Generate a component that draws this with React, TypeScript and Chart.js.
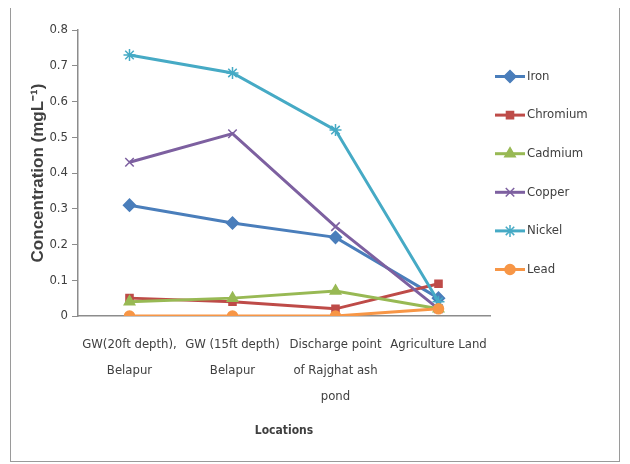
import React, { useEffect, useRef } from "react";
import { Chart, registerables } from "chart.js";
import { drawPoint } from "chart.js/helpers";

Chart.register(...registerables);

const locations: (string | string[])[] = [
  ["GW(20ft depth),", "Belapur"],
  ["GW (15ft depth)", "Belapur"],
  ["Discharge point", "of Rajghat ash", "pond"],
  "Agriculture Land",
];

const iron = [0.31, 0.26, 0.22, 0.05];
const chromium = [0.05, 0.04, 0.02, 0.09];
const cadmium = [0.04, 0.05, 0.07, 0.02];
const copper = [0.43, 0.51, 0.25, 0.02];
const nickel = [0.73, 0.68, 0.52, 0.04];
const lead = [0.0, 0.0, 0.0, 0.02];

const seriesNames = ["Iron", "Chromium", "Cadmium", "Copper", "Nickel", "Lead"];
const seriesValues = [iron, chromium, cadmium, copper, nickel, lead];
const seriesColors = ["#4A7EBB", "#BE4B48", "#98B954", "#7D60A0", "#46AAC5", "#F79646"];
const seriesMarkers = ["rectRot", "rect", "triangle", "crossRot", "star", "circle"];
const markerRadius = [6, 5, 6, 6, 6, 5];

const yTicks = [0, 0.1, 0.2, 0.3, 0.4, 0.5, 0.6, 0.7, 0.8];

const COND = "'DejaVu Sans Condensed', 'DejaVu Sans', sans-serif";
const SANS = "'Liberation Sans', Arial, sans-serif";
const TEXT = "#404040";
const AXIS = "#8c8c8c";

// Legend drawn at the right of the plot: short line with the series marker, then the name.
const sideLegend = {
  id: "sideLegend",
  afterDraw(chart: any) {
    const { ctx, chartArea } = chart;
    const step = 38.6;
    const n = chart.data.datasets.length;
    const cy = (chartArea.top + chartArea.bottom) / 2;
    const y0 = cy - ((n - 1) * step) / 2;
    const x0 = chartArea.right + 5;
    ctx.save();
    chart.data.datasets.forEach((ds: any, i: number) => {
      const y = y0 + i * step;
      ctx.strokeStyle = ds.borderColor;
      ctx.lineWidth = 3;
      ctx.beginPath();
      ctx.moveTo(x0, y);
      ctx.lineTo(x0 + 30, y);
      ctx.stroke();
      ctx.fillStyle = ds.pointBackgroundColor;
      ctx.strokeStyle = ds.pointBorderColor;
      ctx.lineWidth = 1.5;
      drawPoint(ctx, { pointStyle: ds.pointStyle, radius: ds.pointRadius, rotation: 0, borderWidth: 1.5 }, x0 + 15, y);
      ctx.fillStyle = TEXT;
      ctx.font = `13px ${COND}`;
      ctx.textAlign = "left";
      ctx.textBaseline = "middle";
      ctx.fillText(ds.label, x0 + 32, y);
    });
    ctx.restore();
  },
};

export default function App() {
  const ref = useRef<HTMLCanvasElement>(null);

  useEffect(() => {
    if (!ref.current) return;
    const chart = new Chart(ref.current, {
      type: "line",
      data: {
        labels: locations,
        datasets: seriesNames.map((name, i) => ({
          label: name,
          data: seriesValues[i],
          borderColor: seriesColors[i],
          backgroundColor: seriesColors[i],
          pointBackgroundColor: seriesColors[i],
          pointBorderColor: seriesColors[i],
          pointStyle: seriesMarkers[i] as any,
          pointRadius: markerRadius[i],
          pointBorderWidth: 1.5,
          borderWidth: 3,
          tension: 0,
          fill: false,
          order: seriesNames.length - i,
        })),
      },
      options: {
        responsive: false,
        animation: false,
        layout: { padding: { left: 0, top: 22, right: 129, bottom: 0 } },
        plugins: {
          legend: { display: false },
          tooltip: { enabled: false },
        },
        scales: {
          x: {
            offset: true,
            grid: { display: true, drawOnChartArea: false, drawTicks: false },
            border: { color: AXIS, width: 1.5 },
            ticks: {
              autoSkip: false,
              maxRotation: 0,
              padding: 16,
              color: TEXT,
              font: { family: COND, size: 13, lineHeight: 2 },
            },
            title: {
              display: true,
              text: "Locations",
              color: TEXT,
              font: { family: COND, size: 12, weight: "bold" },
              padding: { top: 0, bottom: 23 },
            },
            afterFit(scale: any) {
              scale.height = 145;
            },
          },
          y: {
            min: 0,
            max: 0.8,
            afterBuildTicks(scale: any) {
              scale.ticks = yTicks.map((v) => ({ value: v }));
            },
            grid: { display: true, drawOnChartArea: false, drawTicks: true, tickLength: 6, color: AXIS },
            border: { color: AXIS, width: 1.5 },
            ticks: {
              padding: 4,
              color: TEXT,
              font: { family: COND, size: 13 },
              callback: (v: any) => (Number(v) === 0 ? "0" : Number(v).toFixed(1)),
            },
            title: {
              display: true,
              text: "Concentration (mgL⁻¹)",
              color: TEXT,
              font: { family: SANS, size: 17, weight: "bold" },
              padding: { top: 17, bottom: 0 },
            },
            afterFit(scale: any) {
              scale.width = 67;
            },
          },
        },
      },
      plugins: [sideLegend],
    });
    return () => chart.destroy();
  }, []);

  return (
    <div
      style={{
        marginLeft: 2,
        marginTop: -1,
        width: 608,
        height: 453,
        border: "1px solid #9a9a9a",
        background: "#fff",
      }}
    >
      <canvas ref={ref} width={608} height={453} style={{ display: "block" }} />
    </div>
  );
}
